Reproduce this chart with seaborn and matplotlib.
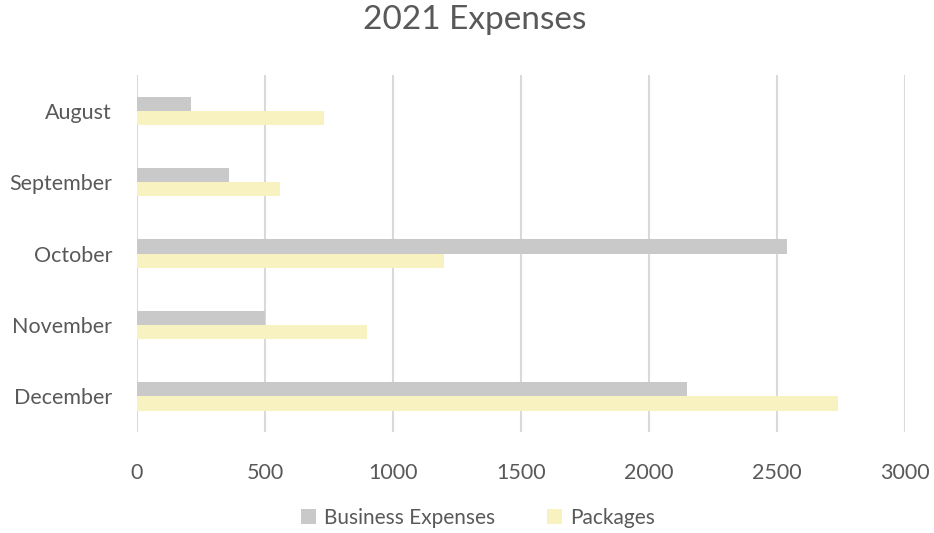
import pandas as pd
import matplotlib.pyplot as plt
import seaborn as sns

# =========================
# 1. DATA
# =========================
months = ["August", "September", "October", "November", "December"]
business_expenses = [210, 360, 2540, 500, 2150]
packages = [730, 560, 1200, 900, 2740]
series_names = ["Business Expenses", "Packages"]
x_ticks = [0, 500, 1000, 1500, 2000, 2500, 3000]

df = pd.DataFrame({
    "Month": months * 2,
    "Amount": business_expenses + packages,
    "Series": [series_names[0]] * len(months) + [series_names[1]] * len(months),
})

# =========================
# 2. CHART
# =========================
sns.set_style("white")
plt.rcParams['font.family'] = ['Lato', 'DejaVu Sans']
text_color = "#595959"

fig = plt.figure(figsize=(9.34, 5.33), dpi=100)
ax = fig.add_axes([0.1467, 0.1895, 0.8223, 0.6695])

sns.barplot(
    data=df, y="Month", x="Amount", hue="Series",
    order=months, hue_order=series_names,
    palette=["#C9C9C9", "#F8F2C0"], width=0.4,
    orient="h", ax=ax, saturation=1, legend=True,
    linewidth=0,
)

ax.set_xlim(0, 3000)
ax.set_xticks(x_ticks)
ax.xaxis.grid(True, color="#D9D9D9", linewidth=1.5)
ax.set_axisbelow(True)
for s in ax.spines.values():
    s.set_visible(False)
ax.tick_params(axis="both", length=0, labelsize=15.5, colors=text_color)
ax.tick_params(axis="x", pad=22)
ax.tick_params(axis="y", pad=18)
ax.set_xlabel("")
ax.set_ylabel("")

fig.suptitle("2021 Expenses", fontsize=24, color=text_color, y=0.99, x=0.508)

handles, labels = ax.get_legend_handles_labels()
ax.legend_.remove()
fig.legend(handles, labels, loc="center", bbox_to_anchor=(0.512, 0.028),
           ncol=2, frameon=False, fontsize=15, labelcolor=text_color,
           handlelength=0.7, handleheight=0.7, columnspacing=2.5, handletextpad=0.4)

plt.savefig("out.png", dpi=100)
